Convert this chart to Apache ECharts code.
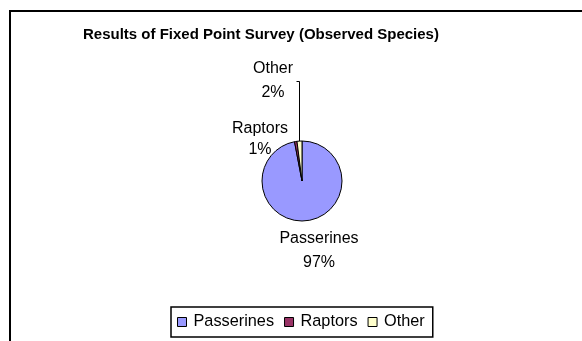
<!DOCTYPE html>
<html><head><meta charset="utf-8">
<script src="https://cdn.jsdelivr.net/npm/echarts@6/dist/echarts.min.js"></script>
<style>html,body{margin:0;padding:0;background:#fff}#c{width:582px;height:341px}</style>
</head><body><div id="c"></div>
<script>
const titleText = "Results of Fixed Point Survey (Observed Species)";
const categories = ["Passerines", "Raptors", "Other"];
const values = [97, 1, 2];
const colors = ["#9999FF", "#993366", "#FFFFCC"];

const FONT = "'Liberation Sans', Arial, sans-serif";
const labelPos = {
  "Passerines": {x: 319, y: 251, lh: 24},
  "Raptors": {x: 260, y: 139, lh: 21},
  "Other": {x: 273, y: 81, lh: 24, line: [[299.5, 142], [299.5, 81.5], [296.5, 81.5]]}
};

const chart = echarts.init(document.getElementById('c'), null, {renderer: 'canvas'});
chart.setOption({
  animation: false,
  backgroundColor: '#fff',
  graphic: [{
    type: 'rect', shape: {x: 10, y: 11, width: 700, height: 500},
    style: {fill: 'none', stroke: '#000', lineWidth: 2}, silent: true, z: -10
  }],
  title: {
    text: titleText, left: 83, top: 27, padding: 0,
    textStyle: {fontFamily: FONT, fontSize: 15, fontWeight: 'bold', color: '#000'}
  },
  legend: {
    data: categories, left: 171, top: 307, orient: 'horizontal',
    padding: [7, 8, 7, 6], borderColor: '#000', borderWidth: 1.5,
    itemGap: 10, itemWidth: 9, itemHeight: 9, icon: 'rect',
    itemStyle: {borderColor: '#000', borderWidth: 1},
    textStyle: {fontFamily: FONT, fontSize: 16.3, color: '#000', padding: [0, 0, 0, 2]}
  },
  series: [{
    type: 'pie', center: [302, 181], radius: 40, startAngle: 90, clockwise: true,
    itemStyle: {borderColor: '#000', borderWidth: 1},
    emphasis: {disabled: true},
    label: {
      show: true, position: 'outside', fontFamily: FONT, fontSize: 16, color: '#000',
      lineHeight: 23, align: 'center',
      formatter: p => p.name + '\n' + Math.round(p.percent) + '%'
    },
    labelLine: {show: true, lineStyle: {color: '#000', width: 1}},
    labelLayout: function (params) {
      const name = categories[params.dataIndex];
      const lp = labelPos[name];
      const r = {x: lp.x, y: lp.y, align: 'center', verticalAlign: 'middle'};
      if (lp.line) r.labelLinePoints = lp.line;
      return r;
    },
    data: categories.map((c, i) => ({
      name: c, value: values[i],
      itemStyle: {color: colors[i]},
      label: {lineHeight: labelPos[c].lh},
      labelLine: {show: c === 'Other'}
    }))
  }]
});
</script></body></html>
